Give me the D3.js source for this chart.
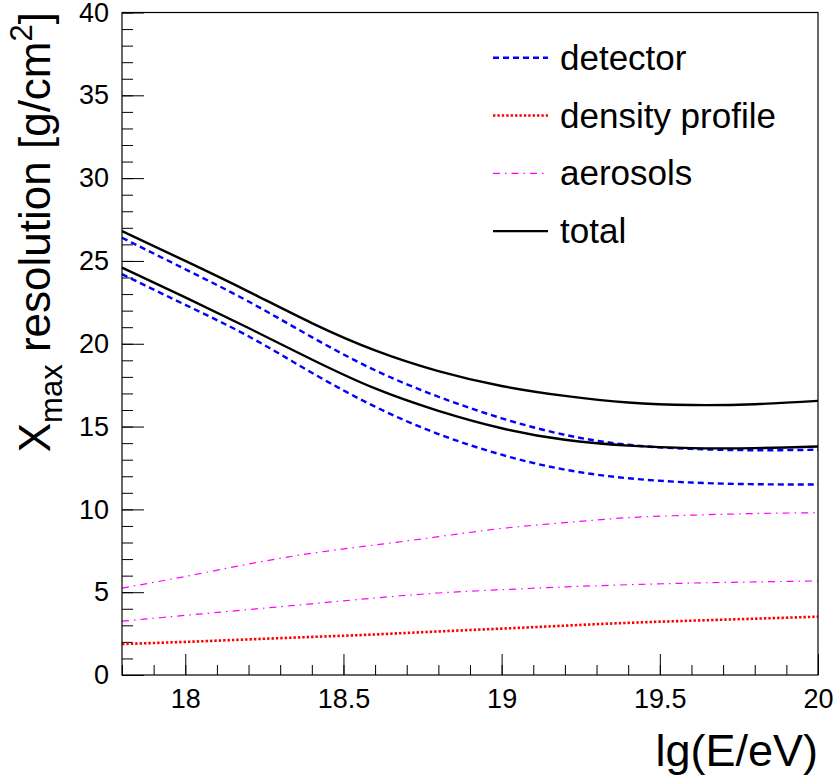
<!DOCTYPE html>
<html>
<head>
<meta charset="utf-8">
<script src="https://cdn.jsdelivr.net/npm/d3@7/dist/d3.min.js"></script>
<style>
  body { margin: 0; background: #fff; }
  text { font-family: "Liberation Sans", Arial, sans-serif; fill: #000; }
</style>
</head>
<body>
<svg width="834" height="776" id="mainsvg"></svg>
<script>
    // lg(E/eV) sample points
    const energy = [17.8, 18.0, 18.2, 18.4, 18.6, 18.8, 19.0, 19.2, 19.4, 19.6, 19.8, 20.0];
    const totalHigh = [26.8, 25.0, 23.15, 21.25, 19.6, 18.35, 17.45, 16.85, 16.45, 16.3, 16.35, 16.55];
    const totalLow = [24.6, 22.8, 20.95, 19.05, 17.3, 15.95, 14.9, 14.2, 13.85, 13.7, 13.7, 13.8];
    const detectorHigh = [26.4, 24.5, 22.55, 20.4, 18.4, 16.8, 15.5, 14.5, 13.9, 13.65, 13.57, 13.6];
    const detectorLow = [24.2, 22.35, 20.45, 18.25, 16.2, 14.55, 13.3, 12.4, 11.88, 11.62, 11.52, 11.5];
    const aerosolsHigh = [5.25, 5.95, 6.7, 7.35, 7.85, 8.35, 8.85, 9.2, 9.5, 9.65, 9.75, 9.8];
    const aerosolsLow = [3.25, 3.6, 3.95, 4.3, 4.65, 4.95, 5.15, 5.32, 5.45, 5.55, 5.62, 5.68];
    const densityProfile = [1.87, 2.0, 2.15, 2.3, 2.45, 2.63, 2.8, 2.98, 3.15, 3.28, 3.4, 3.52];

    const xMajorTicks = [18, 18.5, 19, 19.5, 20];
    const yMajorTicks = [0, 5, 10, 15, 20, 25, 30, 35, 40];
    const legendNames = ['detector', 'density profile', 'aerosols', 'total'];

    const styles = {
        'detector': { color: '#0000ff', width: 2.4, dash: '6,4' },
        'density profile': { color: '#ff0000', width: 2.6, dash: '2.4,2' },
        'aerosols': { color: '#ff00ff', width: 1.2, dash: '7,5,1.5,5' },
        'total': { color: '#000000', width: 2.4, dash: null }
    };

    const curves = [
        { name: 'aerosols', values: aerosolsHigh },
        { name: 'aerosols', values: aerosolsLow },
        { name: 'density profile', values: densityProfile },
        { name: 'detector', values: detectorHigh },
        { name: 'detector', values: detectorLow },
        { name: 'total', values: totalHigh },
        { name: 'total', values: totalLow }
    ];

    const svg = d3.select('svg');
    const plot = { left: 122, right: 818, top: 12.5, bottom: 675 };

    const xScale = d3.scaleLinear().domain([17.8, 20]).range([plot.left, plot.right]);
    const yScale = d3.scaleLinear().domain([0, 40]).range([plot.bottom, plot.top]);

    // minor ticks
    svg.append('g')
        .attr('transform', `translate(${plot.left}, 0)`)
        .call(d3.axisLeft(yScale).ticks(40).tickSize(-11).tickFormat(''))
        .call(g => g.select('.domain').remove());
    svg.append('g')
        .attr('transform', `translate(0, ${plot.bottom})`)
        .call(d3.axisBottom(xScale).ticks(22).tickSize(-10).tickFormat(''))
        .call(g => g.select('.domain').remove());

    // major ticks + labels
    const yAxis_group = svg.append('g')
        .attr('transform', `translate(${plot.left}, 0)`)
        .call(d3.axisLeft(yScale).tickValues(yMajorTicks).tickSize(-22).tickPadding(13));
    yAxis_group.select('.domain').remove();
    yAxis_group.selectAll('.tick text')
        .attr('font-size', 27)
        .attr('font-family', '"Liberation Sans", Arial, sans-serif');

    const xAxis_group = svg.append('g')
        .attr('transform', `translate(0, ${plot.bottom})`)
        .call(d3.axisBottom(xScale).tickValues(xMajorTicks).tickSize(-21).tickPadding(14).tickFormat(d3.format('')));
    xAxis_group.select('.domain').remove();
    xAxis_group.selectAll('.tick text')
        .attr('font-size', 27)
        .attr('font-family', '"Liberation Sans", Arial, sans-serif');

    svg.selectAll('.tick line').attr('stroke', '#000').attr('stroke-width', 1);

    // curves
    const line = d3.line()
        .x((d, i) => xScale(energy[i]))
        .y(d => yScale(d))
        .curve(d3.curveNatural);

    svg.append('g').attr('id', 'curves')
        .selectAll('path').data(curves)
        .join('path')
        .attr('d', d => line(d.values))
        .attr('fill', 'none')
        .attr('stroke', d => styles[d.name].color)
        .attr('stroke-width', d => styles[d.name].width)
        .attr('stroke-dasharray', d => styles[d.name].dash);

    // frame
    svg.append('rect')
        .attr('x', plot.left).attr('y', plot.top)
        .attr('width', plot.right - plot.left).attr('height', plot.bottom - plot.top)
        .attr('fill', 'none').attr('stroke', '#000').attr('stroke-width', 1.2);

    // legend
    const legend = svg.append('g').attr('id', 'legend');
    const rows = legend.selectAll('g').data(legendNames).join('g')
        .attr('transform', (d, i) => `translate(0, ${57.7 + i * 57.8})`);
    rows.append('line')
        .attr('x1', 493).attr('x2', 548).attr('y1', 0).attr('y2', 0)
        .attr('stroke', d => styles[d].color)
        .attr('stroke-width', d => styles[d].width)
        .attr('stroke-dasharray', d => styles[d].dash);
    rows.append('text')
        .attr('x', 560).attr('y', 12)
        .attr('font-size', 35)
        .text(d => d);

    // axis titles
    svg.append('text')
        .attr('x', 818).attr('y', 766)
        .attr('text-anchor', 'end')
        .attr('font-size', 45)
        .text('lg(E/eV)');

    const yTitle = svg.append('text')
        .attr('transform', 'translate(50, 12) rotate(-90)')
        .attr('text-anchor', 'end')
        .attr('font-size', 44);
    yTitle.append('tspan').text('X');
    yTitle.append('tspan').attr('font-size', 31).attr('dy', 12).text('max');
    yTitle.append('tspan').attr('dy', -12).text(' resolution [g/cm');
    yTitle.append('tspan').attr('font-size', 31).attr('dy', -18).text('2');
    yTitle.append('tspan').attr('dy', 18).text(']');
</script>
</body>
</html>
